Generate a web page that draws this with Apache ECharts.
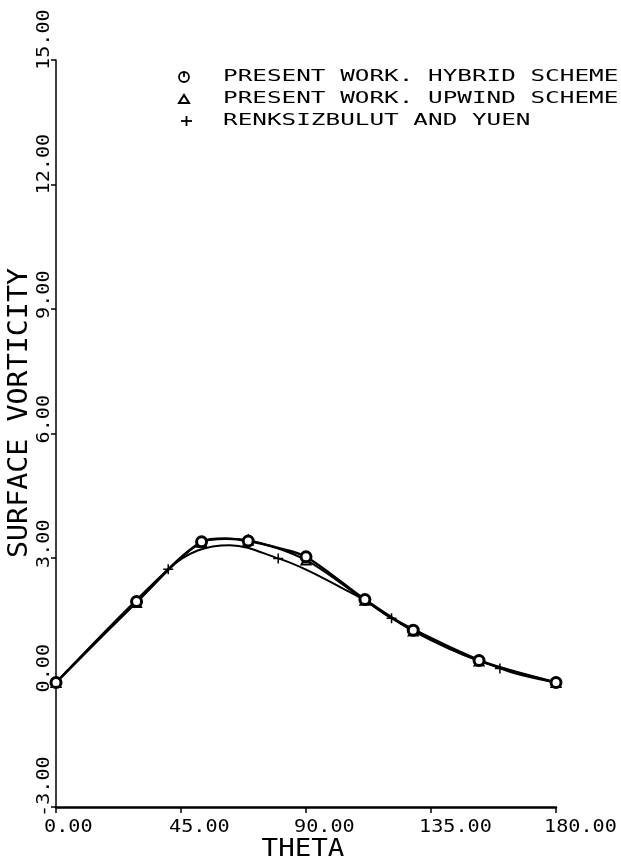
<!DOCTYPE html>
<html>
<head>
<meta charset="utf-8">
<script src="https://cdn.jsdelivr.net/npm/echarts@6/dist/echarts.min.js"></script>
<style>
  html, body { margin: 0; padding: 0; background: #ffffff; }
  #chart { width: 621px; height: 859px; }
</style>
</head>
<body>
<div id="chart"></div>
<script>
// Axis ticks and their printed labels
const thetaTicks = [0, 45, 90, 135, 180];
const thetaTickLabels = ['0.00', '45.00', '90.00', '135.00', '180.00'];
const vortTicks = [-3, 0, 3, 6, 9, 12, 15];
const vortTickLabels = ['-3.00', '0.00', '3.00', '6.00', '9.00', '12.00', '15.00'];

// Present work, hybrid scheme: curve points; marked ones are the grid nodes
const hybridTheta  = [0, 29.0, 52.4, 61.0, 69.2, 80.0, 90.0, 111.2, 128.6, 152.3, 180.0];
const hybridVort   = [0, 1.95, 3.39, 3.47, 3.41, 3.24, 3.03, 2.00, 1.26, 0.53, 0.0];
const hybridMarked = [true, true, true, false, true, false, true, true, true, true, true];

// Present work, upwind scheme
const upwindTheta  = [0, 29.0, 52.4, 61.0, 69.2, 90.0, 111.2, 128.6, 152.3, 180.0];
const upwindVort   = [0, 1.93, 3.38, 3.46, 3.43, 2.95, 1.98, 1.24, 0.52, 0.0];
const upwindMarked = [true, true, true, false, true, true, true, true, true, true];

// Renksizbulut and Yuen: curve points, and which of them carry a "+" marker
const ryTheta  = [0, 40.4, 51.0, 62.6, 80.0, 90.0, 102.0, 111.2, 120.8, 159.8, 180.0];
const ryVort   = [0, 2.73, 3.18, 3.31, 2.99, 2.72, 2.31, 1.98, 1.55, 0.34, 0.0];
const ryMarked = [false, true, false, false, true, false, false, false, true, true, false];

const legendLabels = [
  'PRESENT WORK. HYBRID SCHEME',
  'PRESENT WORK. UPWIND SCHEME',
  'RENKSIZBULUT AND YUEN'
];
const xTitle = 'THETA';
const yTitle = 'SURFACE VORTICITY';

const INK = '#000000';
const MONO = '"DejaVu Sans Mono", "Liberation Mono", monospace';
const PLUS = 'path://M0,5 L10,5 M5,0 L5,10';

const chart = echarts.init(document.getElementById('chart'), null, { renderer: 'canvas' });

function points(xs, ys, marked) {
  return xs.map((x, i) => marked[i]
    ? { value: [x, ys[i]] }
    : { value: [x, ys[i]], symbol: 'none' });
}

chart.setOption({
  animation: false,
  backgroundColor: '#ffffff',
  grid: { left: 56, right: 65, top: 60, bottom: 52, containLabel: false },
  xAxis: {
    type: 'value', min: 0, max: 180, interval: 45,
    axisLine: { show: true, onZero: false, lineStyle: { color: INK, width: 2.5 } },
    axisTick: { show: true, inside: false, length: 6, lineStyle: { color: INK, width: 1.5 } },
    axisLabel: { show: false },
    splitLine: { show: false }
  },
  yAxis: {
    type: 'value', min: -3, max: 15, interval: 3,
    axisLine: { show: true, onZero: false, lineStyle: { color: INK, width: 1.5 } },
    axisTick: { show: true, inside: false, length: 5, lineStyle: { color: INK, width: 1.5 } },
    axisLabel: { show: false },
    splitLine: { show: false }
  },
  series: [
    {
      name: legendLabels[2], type: 'line', smooth: 0.35, z: 2,
      data: points(ryTheta, ryVort, ryMarked),
      symbol: PLUS, symbolSize: 10, showAllSymbol: true,
      itemStyle: { color: INK, borderColor: INK, borderWidth: 1.5 },
      lineStyle: { color: INK, width: 2 }
    },
    {
      name: legendLabels[1], type: 'line', smooth: 0.3, z: 3,
      data: points(upwindTheta, upwindVort, upwindMarked),
      symbol: 'triangle', symbolSize: 9, showAllSymbol: true,
      itemStyle: { color: '#ffffff', borderColor: INK, borderWidth: 2 },
      lineStyle: { color: INK, width: 2 }
    },
    {
      name: legendLabels[0], type: 'line', smooth: 0.3, z: 4,
      data: points(hybridTheta, hybridVort, hybridMarked),
      symbol: 'circle', symbolSize: 10, showAllSymbol: true,
      itemStyle: { color: '#ffffff', borderColor: INK, borderWidth: 3 },
      lineStyle: { color: INK, width: 2.5 }
    }
  ]
});

// Plotter-style text: tick labels, axis titles and key
function txt(opts) {
  return {
    type: 'text', silent: true,
    x: opts.x, y: opts.y,
    rotation: opts.rotation || 0,
    scaleX: opts.scaleX || 1,
    style: {
      text: opts.text, font: opts.font, fill: INK,
      align: opts.align || 'left', verticalAlign: 'middle',
      textAlign: opts.align || 'left', textVerticalAlign: 'middle'
    }
  };
}

const graphics = [];

thetaTicks.forEach((t, i) => {
  const p = chart.convertToPixel({ gridIndex: 0 }, [t, -3]);
  graphics.push(txt({ x: p[0] - 12, y: p[1] + 20, text: thetaTickLabels[i],
    font: '18px ' + MONO, scaleX: 1.12 }));
});

vortTicks.forEach((v, i) => {
  const p = chart.convertToPixel({ gridIndex: 0 }, [0, v]);
  graphics.push(txt({ x: p[0] - 12, y: p[1] + 10, text: vortTickLabels[i],
    font: '18px ' + MONO, scaleX: 1.12, rotation: Math.PI / 2 }));
});

// Axis titles
const xMid = chart.convertToPixel({ gridIndex: 0 }, [90, -3]);
graphics.push(txt({ x: xMid[0] - 3, y: xMid[1] + 42, text: xTitle,
  font: '25px ' + MONO, scaleX: 1.1, align: 'center' }));
graphics.push(txt({ x: 20, y: 413, text: yTitle,
  font: '27px ' + MONO, scaleX: 1.05, align: 'center', rotation: Math.PI / 2 }));

// Key
const keyX = 184, textX = 223, rows = [77, 99, 121];
graphics.push({ type: 'circle', silent: true, shape: { cx: keyX, cy: rows[0], r: 5 },
  style: { fill: 'none', stroke: INK, lineWidth: 1.8 } });
graphics.push({ type: 'line', silent: true, shape: { x1: keyX, y1: rows[0] - 5, x2: keyX, y2: rows[0] },
  style: { stroke: INK, lineWidth: 1.8 } });
graphics.push({ type: 'polygon', silent: true,
  shape: { points: [[keyX - 5, rows[1] + 4], [keyX + 5, rows[1] + 4], [keyX, rows[1] - 4]] },
  style: { fill: 'none', stroke: INK, lineWidth: 2 } });
graphics.push({ type: 'line', silent: true, shape: { x1: keyX - 3, y1: rows[2], x2: keyX + 8, y2: rows[2] },
  style: { stroke: INK, lineWidth: 1.8 } });
graphics.push({ type: 'line', silent: true, shape: { x1: keyX + 2.5, y1: rows[2] - 5, x2: keyX + 2.5, y2: rows[2] + 5 },
  style: { stroke: INK, lineWidth: 1.8 } });
legendLabels.forEach((label, i) => {
  graphics.push(txt({ x: textX, y: rows[i], text: label, font: '16px ' + MONO, scaleX: 1.52 }));
});

chart.setOption({ graphic: graphics });
</script>
</body>
</html>
